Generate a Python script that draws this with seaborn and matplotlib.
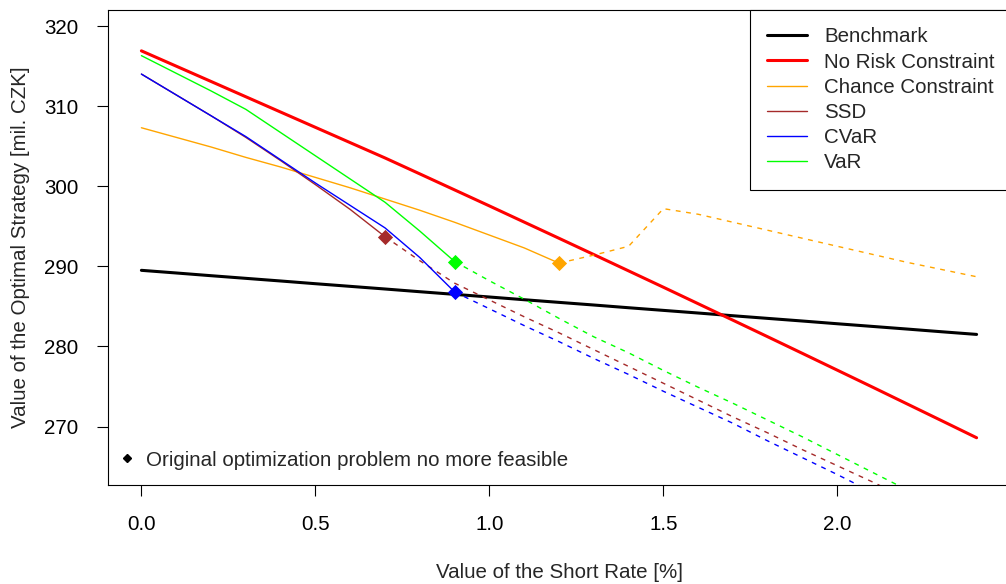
import numpy as np
import matplotlib
matplotlib.use("Agg")
import matplotlib.pyplot as plt
from matplotlib.lines import Line2D
import seaborn as sns

# -------------------------------
# Data
# -------------------------------
short_rate = [0.0, 0.1, 0.2, 0.3, 0.4, 0.5, 0.6, 0.7, 0.8, 0.9, 1.0, 1.1, 1.2,
              1.3, 1.4, 1.5, 1.6, 1.7, 1.8, 1.9, 2.0, 2.1, 2.2, 2.3, 2.4]

benchmark = [289.50, 289.17, 288.83, 288.50, 288.17, 287.83, 287.50, 287.17,
             286.83, 286.50, 286.17, 285.83, 285.50, 285.17, 284.83, 284.50,
             284.17, 283.83, 283.50, 283.17, 282.83, 282.50, 282.17, 281.83,
             281.50]

no_risk = [316.90, 314.99, 313.08, 311.17, 309.26, 307.35, 305.44, 303.53,
           301.54, 299.54, 297.54, 295.52, 293.50, 291.47, 289.43, 287.39,
           285.33, 283.27, 281.20, 279.12, 277.03, 274.94, 272.83, 270.72,
           268.60]

chance = [307.3, 306.1, 304.9, 303.6, 302.4, 301.1, 299.8, 298.4, 297.0,
          295.5, 293.9, 292.3, 290.4, 291.4, 292.5, 297.2, 296.5, 295.5,
          294.5, 293.5, 292.5, 291.5, 290.5, 289.6, 288.7]

ssd = [314.0, 311.4, 308.8, 306.1, 303.2, 300.2, 297.1, 293.7, 290.7, 287.9,
       285.8, 283.7, 281.7, 279.6, 277.5, 275.4, 273.3, 271.2, 269.2, 267.1,
       265.1, 263.1, 261.0]

cvar = [314.0, 311.4, 308.8, 306.2, 303.3, 300.4, 297.6, 294.8, 291.1, 286.8,
        284.7, 282.6, 280.6, 278.5, 276.5, 274.4, 272.4, 270.4, 268.2, 266.1,
        264.0, 261.8]

var = [316.3, 314.1, 311.9, 309.6, 306.7, 303.8, 300.9, 298.0, 294.4, 290.6,
       288.2, 285.9, 283.5, 281.2, 279.2, 277.0, 274.9, 272.9, 270.8, 268.7,
       266.5, 264.3, 262.1]

# last short rate where the original problem is still feasible
chance_limit = 1.2
ssd_limit = 0.7
cvar_limit = 0.9
var_limit = 0.9

legend_labels = ["Benchmark", "No Risk Constraint", "Chance Constraint",
                 "SSD", "CVaR", "VaR"]
x_ticks = [0.0, 0.5, 1.0, 1.5, 2.0]
y_ticks = [270, 280, 290, 300, 310, 320]

# -------------------------------
# Style
# -------------------------------
sns.set_style("ticks")
plt.rcParams["font.family"] = ["Liberation Sans", "DejaVu Sans"]
plt.rcParams["font.size"] = 14.8

fig = plt.figure(figsize=(10.06, 5.84), dpi=100)
ax = fig.add_axes([108 / 1006, 99 / 584, 902 / 1006, 475 / 584])

rate = np.array(short_rate)
thin = 1.0
thick = 2.2
dash = (0, (3.5, 4.0))

# full lines
sns.lineplot(x=rate, y=benchmark, color="black", linewidth=thick, ax=ax,
             errorbar=None)
sns.lineplot(x=rate, y=no_risk, color="red", linewidth=thick, ax=ax,
             errorbar=None)

# risk constrained strategies: solid while feasible, dashed afterwards
constrained = [
    (chance, chance_limit, "orange"),
    (ssd, ssd_limit, "brown"),
    (cvar, cvar_limit, "blue"),
    (var, var_limit, "#00FF00"),
]

for values, limit, col in constrained:
    vals = np.array(values)
    x = rate[:len(vals)]
    solid = x <= limit + 1e-9
    dashed = x >= limit - 1e-9
    sns.lineplot(x=x[solid], y=vals[solid], color=col, linewidth=thin,
                 ax=ax, errorbar=None)
    sns.lineplot(x=x[dashed], y=vals[dashed], color=col, linewidth=thin,
                 linestyle=dash, ax=ax, errorbar=None)
    idx = int(np.argmin(np.abs(x - limit)))
    sns.scatterplot(x=[x[idx]], y=[vals[idx]], marker="D", s=60, color=col,
                    edgecolor=col, linewidth=0, ax=ax, zorder=5)

# -------------------------------
# Axes
# -------------------------------
ax.set_xlim(-0.096, 2.496)
ax.set_ylim(262.7, 322.0)
ax.set_xticks(x_ticks)
ax.set_xticklabels([f"{t:.1f}" for t in x_ticks])
ax.set_yticks(y_ticks)
ax.set_yticklabels([str(t) for t in y_ticks])
ax.tick_params(axis="both", direction="out", length=7.6, width=0.8,
               colors="black", labelsize=14.8)
ax.tick_params(axis="x", pad=14)
ax.tick_params(axis="y", pad=13.5)
for sp in ax.spines.values():
    sp.set_visible(True)
    sp.set_color("black")
    sp.set_linewidth(0.8)

ax.set_xlabel("Value of the Short Rate [%]", fontsize=14.8)
ax.xaxis.set_label_coords(0.5, (485 - 573) / 475)
ax.xaxis.label.set_va("center")
ax.set_ylabel("Value of the Optimal Strategy [mil. CZK]", fontsize=14.8)
ax.yaxis.set_label_coords((21 - 108) / 902, 0.5)
ax.yaxis.label.set_va("center")

# -------------------------------
# Legends
# -------------------------------
handles = [
    Line2D([], [], color="black", linewidth=thick),
    Line2D([], [], color="red", linewidth=thick),
    Line2D([], [], color="orange", linewidth=thin),
    Line2D([], [], color="brown", linewidth=thin),
    Line2D([], [], color="blue", linewidth=thin),
    Line2D([], [], color="#00FF00", linewidth=thin),
]
leg = ax.legend(handles, legend_labels, loc="upper left",
                bbox_to_anchor=((750 - 108) / 902, 1.0), borderaxespad=0,
                frameon=True, fancybox=False, edgecolor="black",
                framealpha=1, fontsize=14.8, handlelength=1.9,
                handletextpad=0.86, borderpad=0.85, labelspacing=0.3)
leg.get_frame().set_linewidth(0.8)
ax.add_artist(leg)

note = Line2D([], [], color="black", marker="D", markersize=3.6,
              linestyle="none")
ax.legend([note], ["Original optimization problem no more feasible"],
          loc="center left", bbox_to_anchor=(0.0118, (485 - 460) / 475),
          borderaxespad=0, borderpad=0, frameon=False, fontsize=14.8,
          handlelength=0.8, handletextpad=0.55)

plt.savefig("out.png", dpi=100)
plt.close()
